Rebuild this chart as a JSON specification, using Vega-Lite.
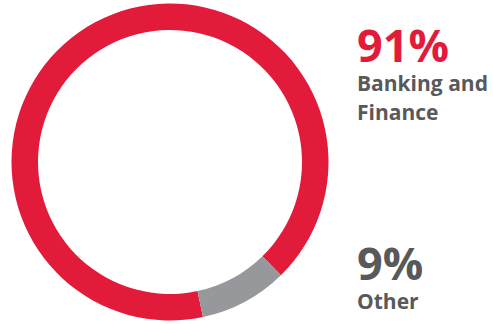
{
  "$schema": "https://vega.github.io/schema/vega-lite/v6.json",
  "padding": 0,
  "spacing": 0,
  "background": "white",
  "config": {"view": {"stroke": null}},
  "datasets": {
    "shares": [
      {"sector": "Banking and\nFinance", "share": 0.91},
      {"sector": "Other", "share": 0.09}
    ]
  },
  "resolve": {"scale": {"color": "independent"}},
  "hconcat": [
    {
      "width": 340,
      "height": 324,
      "data": {"name": "shares"},
      "mark": {"type": "arc", "outerRadius": 158.5, "innerRadius": 132, "stroke": null},
      "encoding": {
        "theta": {"field": "share", "type": "quantitative", "stack": true, "scale": {"range": [2.932, 9.215]}},
        "color": {"field": "sector", "type": "nominal", "sort": ["Banking and\nFinance", "Other"], "scale": {"domain": ["Banking and\nFinance", "Other"], "range": ["#E31B3B", "#97989B"]}, "legend": null},
        "order": {"field": "share", "sort": "descending"}
      }
    },
    {
      "width": 153,
      "height": 324,
      "data": {"name": "shares"},
      "encoding": {
        "y": {"field": "sector", "type": "nominal", "sort": ["Banking and\nFinance", "Other"], "scale": {"type": "point", "padding": 0, "range": [62, 280]}, "axis": null},
        "x": {"value": 17}
      },
      "layer": [
        {
          "mark": {"type": "text", "align": "left", "baseline": "alphabetic", "font": "Open Sans", "fontWeight": "bold", "fontSize": 45},
          "encoding": {
            "text": {"field": "share", "type": "quantitative", "format": ".0%"},
            "color": {"field": "sector", "type": "nominal", "scale": {"domain": ["Banking and\nFinance", "Other"], "range": ["#E31B3B", "#58595B"]}, "legend": null}
          }
        },
        {
          "mark": {"type": "text", "align": "left", "baseline": "alphabetic", "font": "Open Sans", "fontWeight": "bold", "fontSize": 21, "lineBreak": "\n", "lineHeight": 29, "dy": 29, "color": "#58595B"},
          "encoding": {
            "text": {"field": "sector", "type": "nominal"}
          }
        }
      ]
    }
  ]
}
